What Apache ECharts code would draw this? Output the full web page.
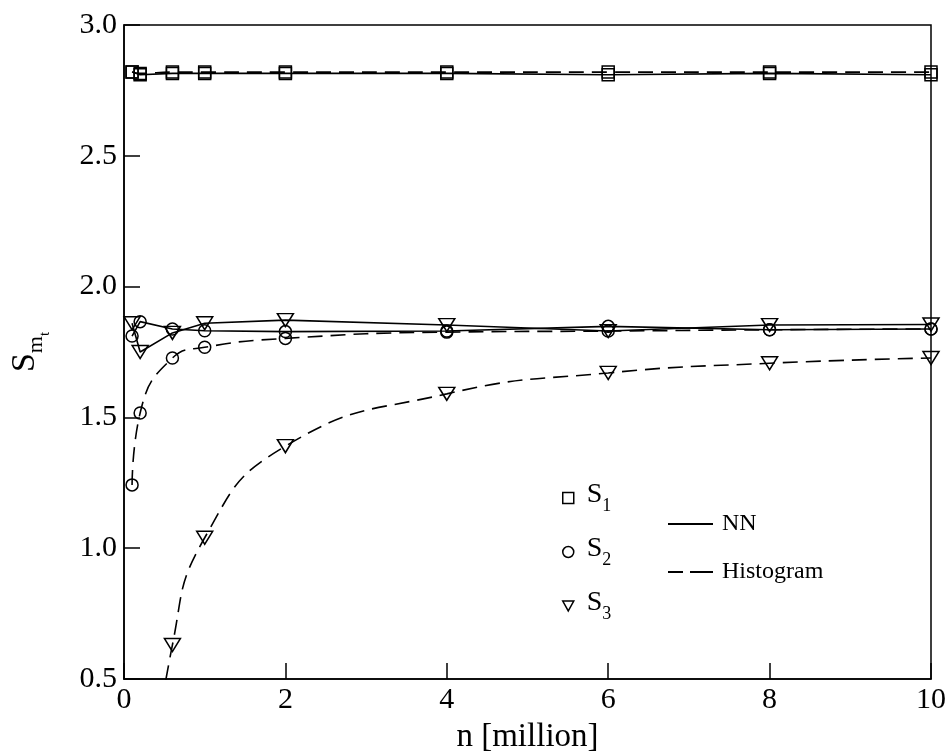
<!DOCTYPE html>
<html>
<head>
<meta charset="utf-8">
<script src="https://cdn.jsdelivr.net/npm/echarts@6/dist/echarts.min.js"></script>
<style>
  html, body { margin: 0; padding: 0; background: #fff; }
  #chart { width: 951px; height: 754px; }
</style>
</head>
<body>
<div id="chart"></div>
<script>
// n in million samples
const nValues = [0.1, 0.2, 0.6, 1, 2, 4, 6, 8, 10]

const s1NN = [2.82, 2.81, 2.815, 2.815, 2.815, 2.815, 2.81, 2.815, 2.81]
const s1Hist = [2.82, 2.815, 2.82, 2.82, 2.82, 2.82, 2.82, 2.82, 2.82]
const s2NN = [1.811, 1.866, 1.838, 1.831, 1.828, 1.83, 1.848, 1.835, 1.838]
const s2Hist = [1.242, 1.517, 1.727, 1.768, 1.802, 1.826, 1.83, 1.835, 1.838]
const s3NN = [1.86, 1.75, 1.823, 1.86, 1.872, 1.853, 1.83, 1.853, 1.855]
// first point is off the chart (below 0.5), 0.2 value is an estimate
const s3Hist = [null, -0.2, 0.63, 1.04, 1.39, 1.59, 1.67, 1.707, 1.727]

const xTicks = [0, 2, 4, 6, 8, 10]
const yTicks = [0.5, 1.0, 1.5, 2.0, 2.5, 3.0]

const FONT = 'Liberation Serif'
const hollow = { color: 'rgba(0,0,0,0)', borderColor: '#000', borderWidth: 1.5 }
const triPath = 'path://M0,0 L10,0 L5,9 Z'

function pairs(ys) {
  return nValues.map((x, i) => [x, ys[i]])
}

function makeSeries(name, ys, symbol, size, dashed) {
  return {
    name: name,
    type: 'line',
    data: pairs(ys),
    symbol: symbol,
    symbolSize: size,
    showSymbol: true,
    smooth: dashed ? 0.5 : false,
    connectNulls: false,
    clip: true,
    itemStyle: hollow,
    lineStyle: { color: '#000', width: 1.6, type: dashed ? [15, 8] : 'solid' },
    emphasis: { disabled: true },
    z: 3
  }
}

// legend-only series
function dummy(name, symbol) {
  return {
    name: name,
    type: 'line',
    data: [],
    symbol: symbol,
    itemStyle: hollow,
    lineStyle: { color: '#000', width: 1.6 }
  }
}

const chart = echarts.init(document.getElementById('chart'))

chart.setOption({
  animation: false,
  backgroundColor: '#fff',
  grid: {
    left: 124,
    right: 20,
    top: 25,
    bottom: 75,
    outerBoundsMode: 'none',
    containLabel: false,
    show: true,
    borderColor: '#000',
    borderWidth: 1.5,
    backgroundColor: 'rgba(0,0,0,0)'
  },
  legend: [
    {
      data: [
        { name: 'S1', icon: 'rect' },
        { name: 'S2', icon: 'circle' },
        { name: 'S3', icon: triPath }
      ],
      orient: 'vertical',
      left: 557,
      top: 476,
      itemWidth: 11,
      itemHeight: 11,
      itemGap: 20,
      itemStyle: hollow,
      selectedMode: false,
      formatter: name => '{s|S}{n|' + name.slice(1) + '}',
      textStyle: {
        fontFamily: FONT,
        color: '#000',
        padding: [0, 0, 0, 8],
        rich: {
          s: { fontFamily: FONT, fontSize: 28, color: '#000', verticalAlign: 'top', lineHeight: 34 },
          n: { fontFamily: FONT, fontSize: 18, color: '#000', verticalAlign: 'top', lineHeight: 18, padding: [16, 0, 0, 0] }
        }
      }
    },
    {
      data: [
        { name: 'NN', icon: 'rect', itemStyle: { color: '#000', borderWidth: 0 } },
        { name: 'Histogram', icon: 'path://M0,0h15v2h-15z M22,0h23v2h-23z', itemStyle: { color: '#000', borderWidth: 0 } }
      ],
      orient: 'vertical',
      left: 663,
      top: 507,
      itemWidth: 45,
      itemHeight: 2,
      itemGap: 24,
      selectedMode: false,
      textStyle: {
        fontFamily: FONT,
        fontSize: 24,
        color: '#000',
        padding: [0, 0, 0, 4]
      }
    }
  ],
  xAxis: {
    type: 'value',
    min: xTicks[0],
    max: xTicks[xTicks.length - 1],
    interval: 2,
    name: 'n [million]',
    nameLocation: 'middle',
    nameGap: 42,
    nameTextStyle: { fontFamily: FONT, fontSize: 33, color: '#000' },
    axisLine: { lineStyle: { color: '#000', width: 1.5 } },
    axisTick: { inside: true, length: 16, lineStyle: { color: '#000', width: 1.5 } },
    splitLine: { show: false },
    axisLabel: { fontFamily: FONT, fontSize: 30, color: '#000', margin: 6 }
  },
  yAxis: {
    type: 'value',
    min: yTicks[0],
    max: yTicks[yTicks.length - 1],
    interval: 0.5,
    name: '{s|S}{m|m}{t|t}',
    nameLocation: 'middle',
    nameRotate: 90,
    nameGap: 76,
    nameTextStyle: {
      fontFamily: FONT,
      color: '#000',
      rich: {
        s: { fontFamily: FONT, fontSize: 34, color: '#000', verticalAlign: 'top', lineHeight: 40 },
        m: { fontFamily: FONT, fontSize: 22, color: '#000', verticalAlign: 'top', lineHeight: 22, padding: [17, 0, 0, 0] },
        t: { fontFamily: FONT, fontSize: 15, color: '#000', verticalAlign: 'top', lineHeight: 15, padding: [30, 0, 0, 0] }
      }
    },
    axisLine: { lineStyle: { color: '#000', width: 1.5 } },
    axisTick: { inside: true, length: 16, lineStyle: { color: '#000', width: 1.5 } },
    splitLine: { show: false },
    axisLabel: {
      fontFamily: FONT,
      fontSize: 30,
      color: '#000',
      margin: 7,
      formatter: v => v.toFixed(1)
    }
  },
  series: [
    makeSeries('S1 NN', s1NN, 'rect', 12, false),
    makeSeries('S1 Histogram', s1Hist, 'rect', 12, true),
    makeSeries('S2 NN', s2NN, 'circle', 12, false),
    makeSeries('S2 Histogram', s2Hist, 'circle', 12, true),
    Object.assign(makeSeries('S3 NN', s3NN, 'triangle', [16, 13], false), { symbolRotate: 180 }),
    Object.assign(makeSeries('S3 Histogram', s3Hist, 'triangle', [16, 13], true), { symbolRotate: 180 }),
    dummy('S1', 'rect'),
    dummy('S2', 'circle'),
    dummy('S3', 'triangle'),
    dummy('NN', 'none'),
    dummy('Histogram', 'none')
  ]
})
</script>
</body>
</html>
